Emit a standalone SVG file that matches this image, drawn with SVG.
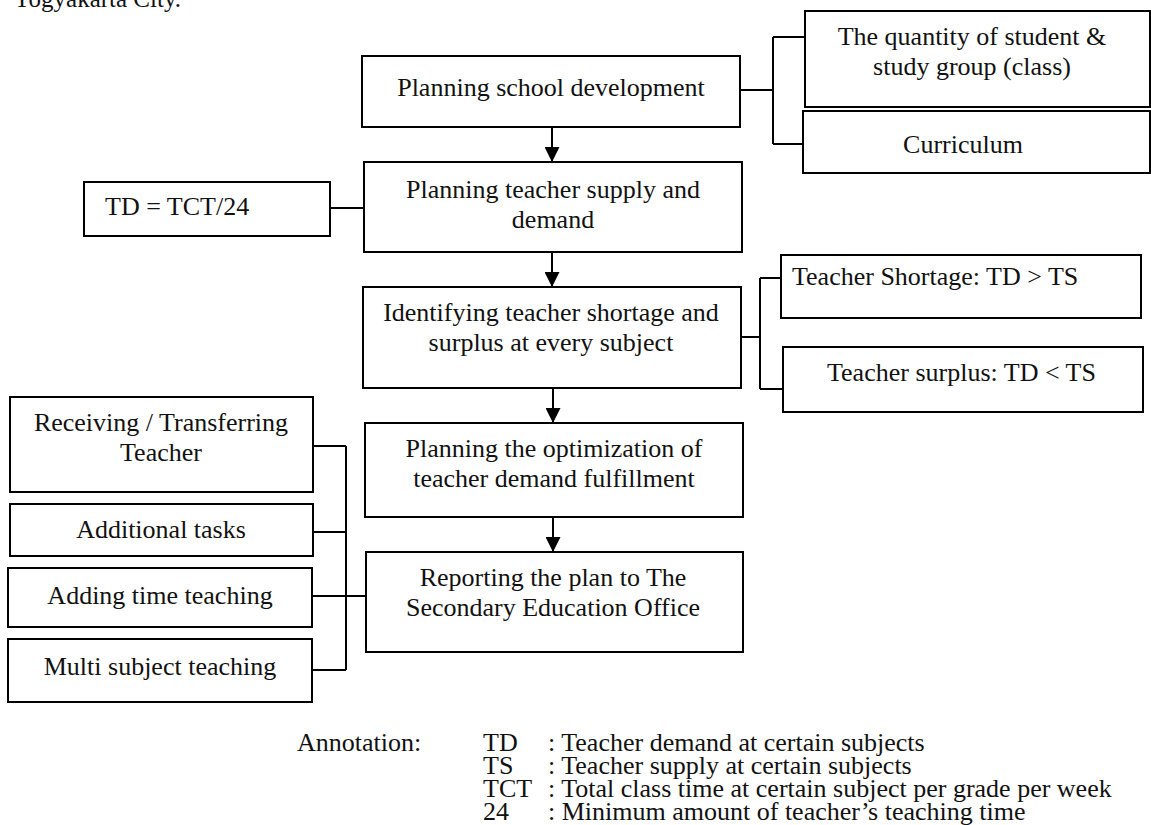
<svg xmlns="http://www.w3.org/2000/svg" width="1151" height="825" viewBox="0 0 1151 825">
<style>
  .box { fill: #ffffff; stroke: #000000; stroke-width: 2; }
  .ln { fill: none; stroke: #000000; stroke-width: 2; }
  .t { font-family: "Liberation Serif", "Times New Roman", serif; font-size: 26px; fill: #111111; }
  .c { text-anchor: middle; }
</style>
<defs>
  <marker id="arrow" viewBox="0 0 10 10" refX="10" refY="5" markerWidth="15" markerHeight="15" markerUnits="userSpaceOnUse" orient="auto">
    <path d="M0,0 L10,5 L0,10 z" fill="#000000"/>
  </marker>
</defs>
<rect width="1151" height="825" fill="#ffffff"/>
<text class="t" x="13" y="7" style="font-size:25px">Yogyakarta City.</text>

<g id="connectors">
  <line class="ln" x1="552" y1="127" x2="552" y2="162" marker-end="url(#arrow)"/>
  <line class="ln" x1="552" y1="252" x2="552" y2="287" marker-end="url(#arrow)"/>
  <line class="ln" x1="553" y1="388" x2="553" y2="423" marker-end="url(#arrow)"/>
  <line class="ln" x1="553" y1="517" x2="553" y2="552" marker-end="url(#arrow)"/>
  <path class="ln" d="M740,90 H773 M773,37 V144 M773,37 H805 M773,144 H803"/>
  <path class="ln" d="M330,208 H364"/>
  <path class="ln" d="M741,337 H760 M760,278 V389 M760,278 H781 M760,389 H783"/>
  <path class="ln" d="M313,446 H346 M346,446 V670 M313,532 H346 M312,596 H365 M312,670 H346"/>
</g>

<g id="n-school-dev">
  <rect class="box" x="362" y="56" width="378" height="71"/>
  <text class="t c" x="551" y="96">Planning school development</text>
</g>
<g id="n-quantity">
  <rect class="box" x="805" y="11" width="345" height="96"/>
  <text class="t c" x="972" y="45">The quantity of student &amp;</text>
  <text class="t c" x="972" y="75">study group (class)</text>
</g>
<g id="n-curriculum">
  <rect class="box" x="803" y="111" width="347" height="62"/>
  <text class="t c" x="963" y="153">Curriculum</text>
</g>
<g id="n-td-formula">
  <rect class="box" x="84" y="182" width="246" height="54"/>
  <text class="t" x="105" y="215">TD = TCT/24</text>
</g>
<g id="n-supply-demand">
  <rect class="box" x="364" y="162" width="378" height="90"/>
  <text class="t c" x="553" y="198">Planning teacher supply and</text>
  <text class="t c" x="553" y="228">demand</text>
</g>
<g id="n-identify">
  <rect class="box" x="363" y="287" width="378" height="101"/>
  <text class="t c" x="551" y="321">Identifying teacher shortage and</text>
  <text class="t c" x="551" y="351">surplus at every subject</text>
</g>
<g id="n-shortage">
  <rect class="box" x="781" y="255" width="360" height="63"/>
  <text class="t" x="792" y="285">Teacher Shortage: TD &gt; TS</text>
</g>
<g id="n-surplus">
  <rect class="box" x="783" y="347" width="360" height="65"/>
  <text class="t" x="827" y="381">Teacher surplus: TD &lt; TS</text>
</g>
<g id="n-optimization">
  <rect class="box" x="365" y="423" width="378" height="94"/>
  <text class="t c" x="554" y="457">Planning the optimization of</text>
  <text class="t c" x="554" y="487">teacher demand fulfillment</text>
</g>
<g id="n-reporting">
  <rect class="box" x="366" y="552" width="377" height="100"/>
  <text class="t c" x="553" y="586">Reporting the plan to The</text>
  <text class="t c" x="553" y="616">Secondary Education Office</text>
</g>
<g id="n-receiving">
  <rect class="box" x="10" y="397" width="303" height="95"/>
  <text class="t c" x="161" y="431">Receiving / Transferring</text>
  <text class="t c" x="161" y="461">Teacher</text>
</g>
<g id="n-additional">
  <rect class="box" x="10" y="504" width="303" height="52"/>
  <text class="t c" x="161" y="538">Additional tasks</text>
</g>
<g id="n-adding-time">
  <rect class="box" x="8" y="568" width="304" height="59"/>
  <text class="t c" x="160" y="604">Adding time teaching</text>
</g>
<g id="n-multi">
  <rect class="box" x="8" y="639" width="304" height="63"/>
  <text class="t c" x="160" y="675">Multi subject teaching</text>
</g>

<g id="annotation">
  <text class="t" x="297" y="751">Annotation:</text>
  <text class="t" x="483" y="751">TD</text>
  <text class="t" x="548" y="751">: Teacher demand at certain subjects</text>
  <text class="t" x="483" y="774">TS</text>
  <text class="t" x="548" y="774">: Teacher supply at certain subjects</text>
  <text class="t" x="483" y="797">TCT</text>
  <text class="t" x="548" y="797">: Total class time at certain subject per grade per week</text>
  <text class="t" x="483" y="820">24</text>
  <text class="t" x="548" y="820">: Minimum amount of teacher’s teaching time</text>
</g>
</svg>
